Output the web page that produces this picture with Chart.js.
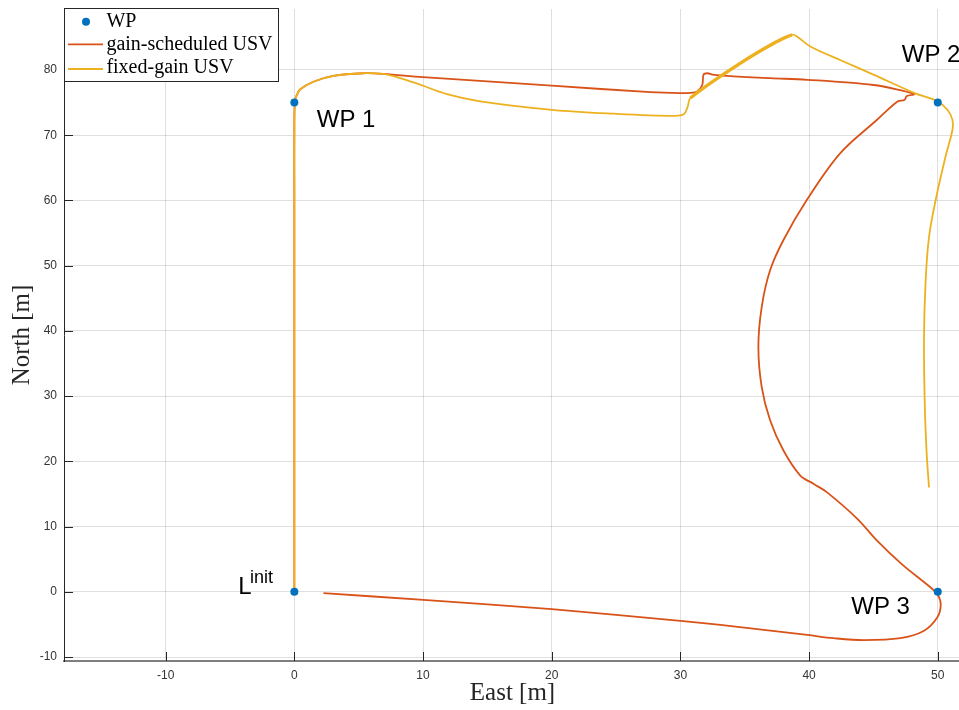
<!DOCTYPE html>
<html>
<head>
<meta charset="utf-8">
<title>USV waypoint tracking</title>
<script src="https://cdn.jsdelivr.net/npm/chart.js@4.4.0/dist/chart.umd.min.js"></script>
<style>
    html, body { margin: 0; padding: 0; background: #fff; overflow: hidden; }
    #wrap { position: relative; width: 959px; height: 710px; }
    #trajChart { display: block; }
</style>
</head>
<body>
<div id="wrap"><canvas id="trajChart" width="959" height="710"></canvas></div>
<script>
(function () {
    'use strict';

    var xTicks = [-10, 0, 10, 20, 30, 40, 50];
    var yTicks = [-10, 0, 10, 20, 30, 40, 50, 60, 70, 80];

    var seriesLabels = ['WP', 'gain-scheduled USV', 'fixed-gain USV'];

    var wpEast = [0, 0, 50, 50];
    var wpNorth = [0, 75, 75, 0];

    var gainEast = [0, 0, 0, 0, 0, 0.05, 0.18, 0.44, 1.48, 3.03, 5.37, 6.92, 10.0, 20.0, 27.67, 30.0, 30.8, 31.3,
        31.7, 31.8, 32.1, 32.5, 33.6, 37.0, 39.86, 45.0, 47.1, 48.15, 47.6, 47.4, 46.9, 45.26, 42.41,
        39.82, 38.0, 36.97, 36.32, 36.06, 36.32, 36.97, 38.0, 39.3, 40.4, 41.4, 43.75, 45.3, 47.2,
        49.45, 49.97, 50.23, 49.97, 48.9, 47.1, 44.26, 41.9, 39.86, 33.1, 30.0, 20.0, 10.03, 2.26];
    var gainNorth = [0, 20, 40, 60, 72, 75.4, 76.1, 77.0, 78.2, 79.1, 79.5, 79.4, 78.9, 77.6, 76.6, 76.45, 76.5, 76.7,
        77.7, 79.3, 79.5, 79.3, 79.1, 78.75, 78.5, 77.7, 76.9, 76.3, 76.0, 75.4, 75.2, 72.33, 67.22,
        60.06, 53.9, 49.3, 43.7, 37.55, 31.4, 26.3, 21.7, 17.87, 16.5, 15.25, 11.2, 7.8, 4.25,
        0.66, -0.35, -1.9, -3.9, -6.0, -7.1, -7.4, -7.1, -6.6, -5.07, -4.45, -2.66, -1.23, -0.2];

    var fixedEast = [0, 0, 0, 0, 0, 0.05, 0.18, 0.44, 1.48, 3.03, 5.37, 6.92, 9.27, 11.86, 14.45, 20.0, 24.8, 29.5,
        30.26, 30.57, 30.78, 34.67, 37.26, 38.69, 39.08, 40.1, 42.45, 45.0, 48.15, 49.97, 50.75, 51.14,
        51.14, 50.6, 49.84, 49.32, 49.06, 48.93, 48.99, 49.14, 49.32];
    var fixedNorth = [0, 20, 40, 60, 72, 75.4, 76.1, 77.0, 78.2, 79.1, 79.5, 79.4, 78.1, 76.3, 75.2, 73.9, 73.3, 72.96,
        73.2, 74.4, 75.7, 81.05, 84.1, 85.4, 85.1, 83.6, 81.5, 79.3, 76.5, 75.2, 73.9, 72.35,
        70.8, 66.7, 60.1, 54.4, 47.8, 39.1, 28.8, 21.15, 16.0];

    var colWP = '#0072BD';
    var colGain = '#D95319';
    var colFixed = '#EDB120';
    var gridColor = 'rgba(38,38,38,0.15)';
    var inkColor = '#262626';

    function toPoints(xs, ys) {
        return xs.map(function (x, i) { return { x: x, y: ys[i] }; });
    }

    // text placed next to the waypoints, in data units (left edge, baseline)
    var notes = [
        { text: 'WP 1', x: 1.74, y: 71.3 },
        { text: 'WP 2', x: 47.2, y: 81.27 },
        { text: 'WP 3', x: 43.28, y: -3.42 }
    ];

    function noPadding(s) {
        s.paddingLeft = 0;
        s.paddingRight = 0;
        s.paddingTop = 0;
        s.paddingBottom = 0;
    }

    var matlabAxes = {
        id: 'matlabAxes',
        beforeDatasetsDraw: function (chart) {
            var ctx = chart.ctx, area = chart.chartArea;
            var sx = chart.scales.x, sy = chart.scales.y;
            ctx.save();
            ctx.strokeStyle = inkColor;
            ctx.lineWidth = 1;
            ctx.beginPath();
            xTicks.forEach(function (v) {
                var px = Math.round(sx.getPixelForValue(v)) + 0.5;
                ctx.moveTo(px, area.bottom);
                ctx.lineTo(px, area.bottom - 9);
            });
            yTicks.forEach(function (v) {
                var py = Math.round(sy.getPixelForValue(v)) + 0.5;
                ctx.moveTo(area.left, py);
                ctx.lineTo(area.left + 9, py);
            });
            ctx.stroke();
            ctx.restore();
        },
        afterDraw: function (chart) {
            var ctx = chart.ctx, area = chart.chartArea;
            var sx = chart.scales.x, sy = chart.scales.y;
            ctx.save();

            // waypoint names
            ctx.fillStyle = '#000';
            ctx.textAlign = 'left';
            ctx.textBaseline = 'alphabetic';
            ctx.font = '24px "Liberation Sans", Arial, sans-serif';
            notes.forEach(function (n) {
                ctx.fillText(n.text, sx.getPixelForValue(n.x), sy.getPixelForValue(n.y));
            });
            var lx = sx.getPixelForValue(-4.36), ly = sy.getPixelForValue(-0.35);
            ctx.fillText('L', lx, ly);
            var lw = ctx.measureText('L').width;
            ctx.font = '18px "Liberation Sans", Arial, sans-serif';
            ctx.fillText('init', lx + lw - 1.5, ly - 11.6);

            // axis titles
            ctx.fillStyle = inkColor;
            ctx.font = '25px "Liberation Serif", "Times New Roman", serif';
            ctx.textAlign = 'center';
            ctx.fillText('East [m]', (area.left + area.right) / 2 + 1, 700);
            ctx.save();
            ctx.translate(29, (area.top + area.bottom) / 2);
            ctx.rotate(-Math.PI / 2);
            ctx.fillText('North [m]', 0, 0);
            ctx.restore();

            // legend box
            var L = area.left, T = area.top - 1;
            ctx.fillStyle = '#fff';
            ctx.fillRect(L + 0.5, T + 0.5, 214, 73);
            ctx.strokeStyle = inkColor;
            ctx.lineWidth = 1;
            ctx.strokeRect(L + 0.5, T + 0.5, 214, 73);

            ctx.fillStyle = colWP;
            ctx.beginPath();
            ctx.arc(L + 22, T + 13.7, 4, 0, Math.PI * 2);
            ctx.fill();

            ctx.lineWidth = 1.8;
            ctx.strokeStyle = colGain;
            ctx.beginPath();
            ctx.moveTo(L + 4, T + 36.3);
            ctx.lineTo(L + 39, T + 36.3);
            ctx.stroke();
            ctx.strokeStyle = colFixed;
            ctx.beginPath();
            ctx.moveTo(L + 4, T + 61);
            ctx.lineTo(L + 39, T + 61);
            ctx.stroke();

            ctx.fillStyle = '#000';
            ctx.textAlign = 'left';
            ctx.font = '20px "Liberation Serif", "Times New Roman", serif';
            ctx.fillText(seriesLabels[0], L + 42.4, T + 18.7);
            ctx.fillText(seriesLabels[1], L + 42.4, T + 42);
            ctx.fillText(seriesLabels[2], L + 42.4, T + 65.3);

            ctx.restore();
        }
    };

    var tickFont = { family: '"Liberation Sans", Arial, sans-serif', size: 12 };

    new Chart(document.getElementById('trajChart').getContext('2d'), {
        type: 'scatter',
        data: {
            datasets: [{
                label: seriesLabels[0],
                data: toPoints(wpEast, wpNorth),
                backgroundColor: colWP,
                borderColor: colWP,
                pointRadius: 4,
                pointBorderWidth: 0,
                showLine: false,
                order: 0
            }, {
                label: seriesLabels[1],
                data: toPoints(gainEast, gainNorth),
                borderColor: colGain,
                borderWidth: 1.8,
                pointRadius: 0,
                showLine: true,
                tension: 0.35,
                order: 2
            }, {
                label: seriesLabels[2],
                data: toPoints(fixedEast, fixedNorth),
                borderColor: colFixed,
                borderWidth: 1.8,
                pointRadius: 0,
                showLine: true,
                tension: 0.35,
                order: 1,
                segment: {
                    borderWidth: function (c) {
                        return (c.p0DataIndex >= 20 && c.p0DataIndex < 23) ? 3.4 : 1.8;
                    }
                }
            }]
        },
        options: {
            responsive: false,
            animation: false,
            devicePixelRatio: 1,
            layout: { autoPadding: false, padding: { top: 9, right: 0, bottom: 0, left: 0 } },
            plugins: {
                legend: { display: false },
                tooltip: { enabled: false }
            },
            scales: {
                x: {
                    type: 'linear',
                    min: -17.9,
                    max: 51.65,
                    afterBuildTicks: function (s) {
                        s.ticks = xTicks.map(function (v) { return { value: v }; });
                    },
                    afterFit: function (s) { s.height = 49; noPadding(s); },
                    grid: { color: gridColor, drawTicks: false },
                    border: { color: '#7f7f7f', width: 2 },
                    ticks: { padding: 7, color: '#333', font: tickFont, maxRotation: 0 }
                },
                y: {
                    type: 'linear',
                    min: -10.6,
                    max: 89.35,
                    afterBuildTicks: function (s) {
                        s.ticks = yTicks.map(function (v) { return { value: v }; });
                    },
                    afterFit: function (s) { s.width = 64; noPadding(s); },
                    grid: { color: gridColor, drawTicks: false },
                    border: { color: inkColor, width: 1 },
                    ticks: { padding: 7, color: '#333', font: tickFont }
                }
            }
        },
        plugins: [matlabAxes]
    });
}());
</script>
</body>
</html>
